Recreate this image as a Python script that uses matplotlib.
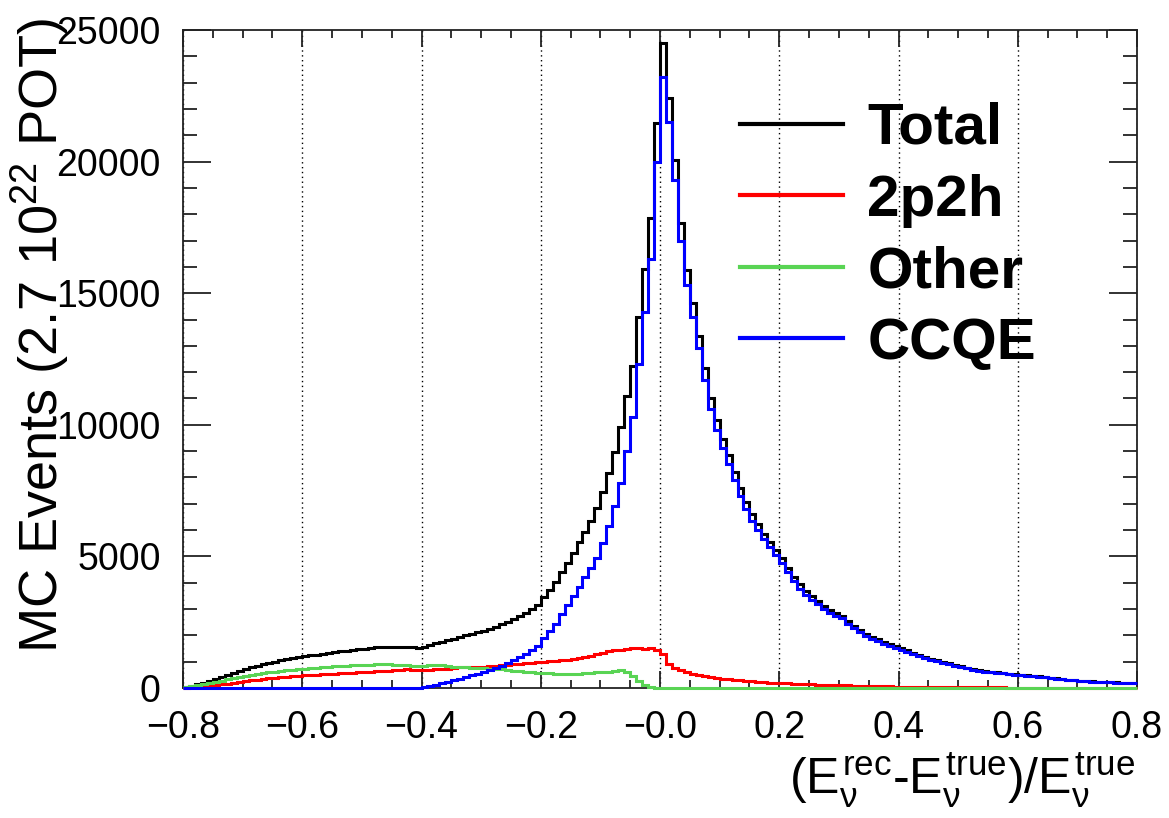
import numpy as np
import matplotlib
matplotlib.use("Agg")
import matplotlib.pyplot as plt
from matplotlib.lines import Line2D
from matplotlib.ticker import MultipleLocator, FixedLocator

# Fractional neutrino energy resolution, MC event counts per bin (bins of 0.01 from -0.8 to 0.8)
ccqe = np.array([
    0, 0, 0, 0, 0, 0, 0, 0, 0, 0,
    0, 0, 0, 0, 0, 0, 0, 0, 0, 0,
    0, 0, 0, 0, 0, 0, 0, 0, 0, 0,
    0, 0, 0, 0, 0, 0, 0, 0, 0, 0,
    20, 60, 120, 180, 240, 300, 360, 420, 480, 540,
    600, 670, 750, 840, 940, 1050, 1170, 1300, 1440, 1600,
    1900, 2150, 2450, 2800, 3150, 3500, 3850, 4200, 4550, 4950,
    5500, 6150, 6900, 7800, 9000, 10300, 12300, 14300, 16300, 20000,
    23200, 21500, 19300, 17000, 15300, 14100, 12900, 11700, 10600, 9800,
    9100, 8500, 7900, 7300, 6800, 6350, 6000, 5650, 5350, 5050,
    4750, 4400, 4050, 3780, 3550, 3350, 3180, 3000, 2850, 2750,
    2650, 2450, 2280, 2120, 1990, 1880, 1780, 1680, 1600, 1530,
    1460, 1380, 1290, 1200, 1140, 1080, 1010, 960, 910, 850,
    800, 750, 700, 650, 620, 600, 575, 560, 530, 500,
    480, 465, 450, 425, 400, 380, 355, 335, 310, 290,
    270, 255, 245, 235, 225, 215, 205, 200, 195, 190,
], dtype=float)

twop2h = np.array([
    10, 20, 35, 55, 80, 110, 140, 170, 200, 230,
    260, 290, 320, 345, 370, 395, 415, 430, 445, 460,
    475, 490, 505, 520, 530, 545, 555, 570, 585, 600,
    610, 625, 635, 650, 660, 680, 700, 715, 700, 690,
    685, 700, 710, 720, 740, 770, 790, 800, 795, 805,
    815, 830, 850, 870, 890, 910, 930, 950, 965, 980,
    995, 1010, 1030, 1055, 1080, 1110, 1140, 1180, 1230, 1290,
    1340, 1390, 1430, 1460, 1490, 1510, 1520, 1500, 1510, 1450,
    1300, 900, 760, 670, 600, 540, 490, 450, 415, 385,
    360, 335, 310, 290, 270, 250, 235, 220, 205, 195,
    185, 175, 165, 155, 150, 140, 130, 120, 115, 110,
    100, 95, 90, 85, 80, 75, 70, 65, 60, 55,
    52, 50, 48, 45, 42, 40, 38, 36, 34, 32,
    30, 28, 26, 25, 24, 22, 21, 20, 18, 17,
    16, 15, 14, 13, 12, 11, 10, 9, 9, 8,
    8, 7, 7, 6, 6, 5, 5, 4, 4, 4,
], dtype=float)

other = np.array([
    40, 70, 110, 150, 190, 230, 280, 330, 380, 420,
    460, 495, 530, 560, 590, 610, 640, 670, 700, 720,
    735, 750, 760, 780, 800, 820, 840, 850, 860, 870,
    880, 890, 905, 910, 900, 885, 870, 860, 850, 840,
    845, 860, 870, 860, 830, 810, 800, 790, 775, 765,
    750, 740, 725, 710, 690, 660, 630, 610, 595, 580,
    570, 560, 550, 540, 530, 535, 550, 565, 580, 600,
    610, 625, 645, 665, 600, 440, 260, 130, 50, 10,
    0, 0, 0, 0, 0, 0, 0, 0, 0, 0,
    0, 0, 0, 0, 0, 0, 0, 0, 0, 0,
    0, 0, 0, 0, 0, 0, 0, 0, 0, 0,
    0, 0, 0, 0, 0, 0, 0, 0, 0, 0,
    0, 0, 0, 0, 0, 0, 0, 0, 0, 0,
    0, 0, 0, 0, 0, 0, 0, 0, 0, 0,
    0, 0, 0, 0, 0, 0, 0, 0, 0, 0,
    0, 0, 0, 0, 0, 0, 0, 0, 0, 0,
], dtype=float)

total = ccqe + twop2h + other

series_labels = ["Total", "2p2h", "Other", "CCQE"]
series_colors = ["#000000", "#ff0000", "#59d454", "#0000ff"]

x_ticks = [-0.8, -0.6, -0.4, -0.2, 0.0, 0.2, 0.4, 0.6, 0.8]
x_tick_labels = ["\u22120.8", "\u22120.6", "\u22120.4", "\u22120.2", "\u22120.0",
                 "0.2", "0.4", "0.6", "0.8"]

plt.rcParams["font.family"] = ["Liberation Sans", "DejaVu Sans"]
plt.rcParams["mathtext.fontset"] = "custom"
plt.rcParams["mathtext.rm"] = "Liberation Sans"
plt.rcParams["mathtext.it"] = "Liberation Sans"
plt.rcParams["mathtext.bf"] = "Liberation Sans:bold"

W, H = 1169, 818
fig = plt.figure(figsize=(W / 100, H / 100), dpi=100)
ax = fig.add_axes([183 / W, 1 - 688 / H, (1137 - 183) / W, (688 - 30) / H])

edges = np.linspace(-0.8, 0.8, len(ccqe) + 1)
for vals, col, z in zip([total, twop2h, other, ccqe], series_colors, [3, 4, 5, 6]):
    ax.stairs(vals, edges, color=col, lw=2.2, baseline=None, clip_on=False, zorder=z)

ax.set_xlim(-0.8, 0.8)
ax.set_ylim(0, 25000)

ax.xaxis.set_major_locator(FixedLocator(x_ticks))
ax.set_xticklabels(x_tick_labels)
ax.xaxis.set_minor_locator(MultipleLocator(0.05))
ax.yaxis.set_major_locator(MultipleLocator(5000))
ax.yaxis.set_minor_locator(MultipleLocator(1000))

ax.tick_params(which="both", direction="in", top=True, right=True, width=1.3,
               labelsize=27, color="#222222")
ax.tick_params(axis="x", which="major", length=12, pad=16)
ax.tick_params(axis="x", which="minor", length=6)
ax.tick_params(axis="y", which="major", length=20, pad=16)
ax.tick_params(axis="y", which="minor", length=10)
for sp in ax.spines.values():
    sp.set_linewidth(1.3)
    sp.set_color("#222222")

ax.grid(axis="x", which="major", linestyle=(0, (1, 2.5)), color="black", lw=1.0)

fig.text(58 / W, 1 - 18 / H, "MC Events (2.7 10$^{22}$ POT)", fontsize=39,
         rotation=90, rotation_mode="anchor", ha="right", va="baseline")
fig.text(1135 / W, 1 - 795 / H,
         r"$(E_{\nu}^{\mathrm{rec}}$-$E_{\nu}^{\mathrm{true}})/E_{\nu}^{\mathrm{true}}$",
         fontsize=36, ha="right", va="baseline")

handles = [Line2D([], [], color=c, lw=3) for c in series_colors]
ax.legend(handles, series_labels, loc="upper left", bbox_to_anchor=(740 / W, 1 - 102 / H),
          bbox_transform=fig.transFigure, frameon=False, borderpad=0, borderaxespad=0,
          handlelength=1.77, handletextpad=0.41, labelspacing=0.30,
          prop={"weight": "bold", "size": 42})

fig.savefig("out.png", dpi=100, facecolor="white")
